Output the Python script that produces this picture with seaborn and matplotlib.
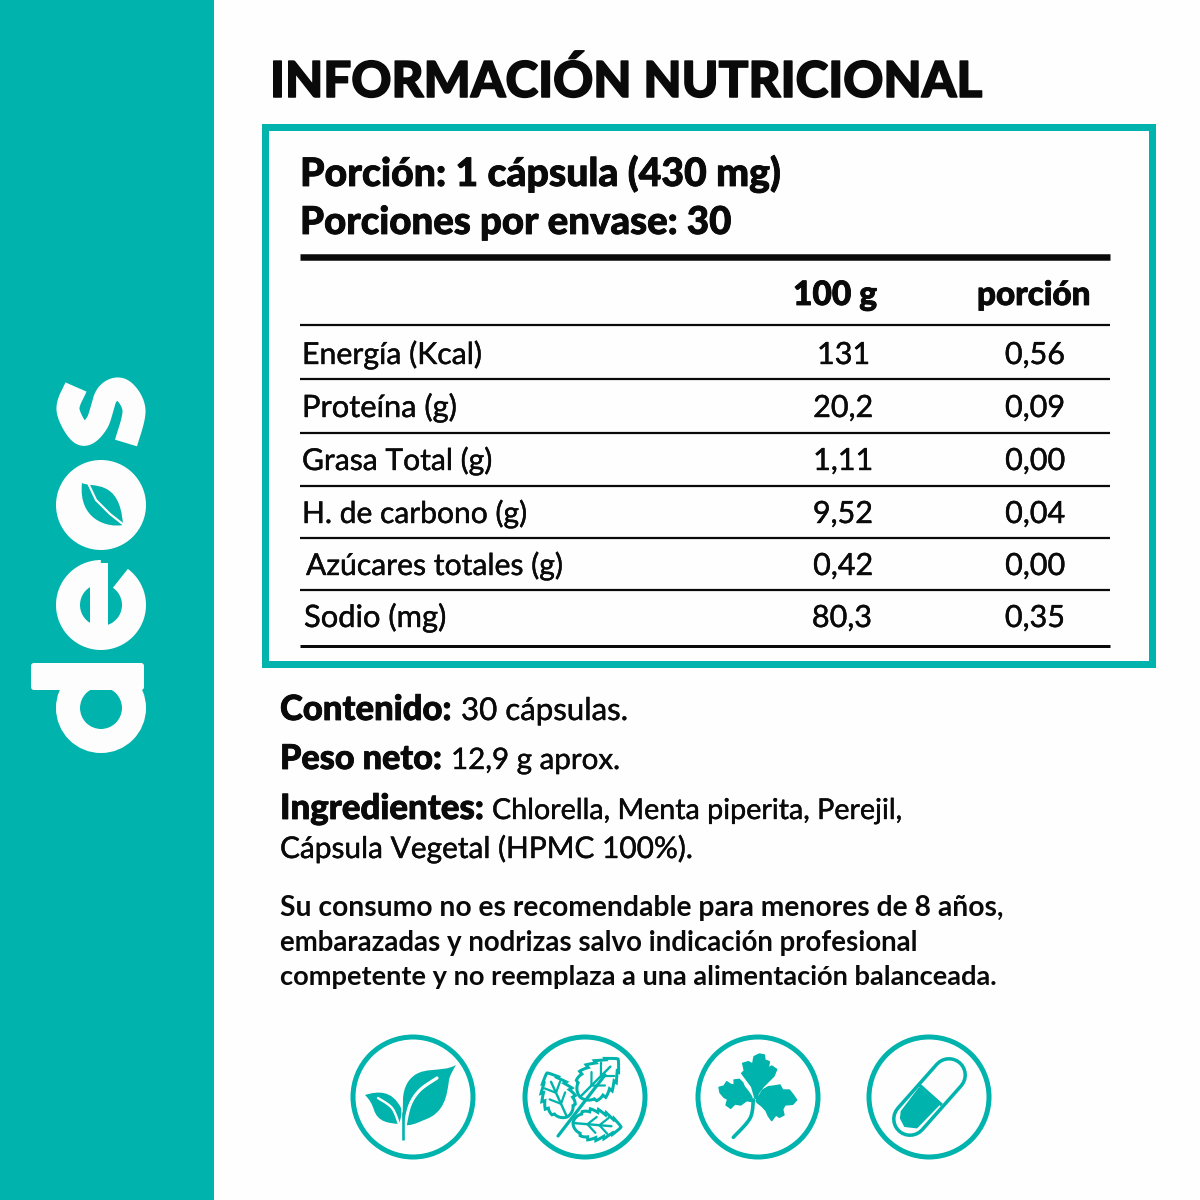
import numpy as np
import pandas as pd
import matplotlib
matplotlib.use("Agg")
import matplotlib.pyplot as plt
import matplotlib.patheffects as pe
from matplotlib.path import Path
from matplotlib.patches import PathPatch, Circle, Rectangle, FancyBboxPatch, Polygon
import seaborn as sns

TEAL = "#00B3AC"
INK = "#0A0A0A"

title = "INFORMACIÓN NUTRICIONAL"
serving = ["Porción: 1 cápsula (430 mg)", "Porciones por envase: 30"]
col_heads = ["100 g", "porción"]
nutrients = ["Energía (Kcal)", "Proteína (g)", "Grasa Total (g)", "H. de carbono (g)",
             "Azúcares totales (g)", "Sodio (mg)"]
per_100g = ["131", "20,2", "1,11", "9,52", "0,42", "80,3"]
per_portion = ["0,56", "0,09", "0,00", "0,04", "0,00", "0,35"]
info_bold = ["Contenido:", "Peso neto:", "Ingredientes:"]
info_plain = ["30 cápsulas.", "12,9 g aprox.", "Chlorella, Menta piperita, Perejil,"]
info_extra = "Cápsula Vegetal (HPMC 100%)."
warning = ["Su consumo no es recomendable para menores de 8 años,",
           "embarazadas y nodrizas salvo indicación profesional",
           "competente y no reemplaza a una alimentación balanceada."]

sns.set_theme(style="white")
plt.rcParams["font.family"] = ["Lato", "DejaVu Sans"]

fig = plt.figure(figsize=(12, 12), dpi=100, facecolor="#FEFEFE")
ax = fig.add_axes([0, 0, 1, 1])
ax.set_facecolor("#FEFEFE")
renderer = fig.canvas.get_renderer()
PT = 0.72


def fit(s, x0, x1, base, weight="normal", grow=0.0, color=INK):
    t = ax.text(x0, base, s, fontsize=20, fontweight=weight, color=color,
                ha="left", va="baseline", zorder=5)
    w = t.get_window_extent(renderer).width
    t.set_fontsize(20 * (x1 - x0) / w)
    if grow:
        t.set_path_effects([pe.withStroke(linewidth=grow, foreground=color)])
    return t


def right(s, x1, base, size, grow=0.0, color=INK):
    t = ax.text(x1, base, s, fontsize=size, color=color, ha="right", va="baseline", zorder=5)
    if grow:
        t.set_path_effects([pe.withStroke(linewidth=grow, foreground=color)])
    return t


def bez(start, *segs, **kw):
    verts = [start]
    codes = [Path.MOVETO]
    for s in segs:
        verts += list(s)
        codes += [Path.CURVE4] * 3
    verts.append(start)
    codes.append(Path.CLOSEPOLY)
    kw.setdefault("fc", TEAL)
    kw.setdefault("ec", "none")
    ax.add_patch(PathPatch(Path(verts, codes), **kw))


def stroke(xs, ys, w, color=TEAL, cap="round", z=3):
    ax.plot(xs, ys, color=color, lw=w * PT, solid_capstyle=cap, solid_joinstyle="round", zorder=z)


def spline(pts, n=24):
    p = np.array([pts[0]] + list(pts) + [pts[-1]], float)
    out = []
    for i in range(1, len(p) - 2):
        for t in np.linspace(0, 1, n):
            out.append(0.5 * (2 * p[i] + (p[i + 1] - p[i - 1]) * t
                              + (2 * p[i - 1] - 5 * p[i] + 4 * p[i + 1] - p[i + 2]) * t ** 2
                              + (3 * p[i] - p[i - 1] - 3 * p[i + 1] + p[i + 2]) * t ** 3))
    return np.array(out)


def toothed(base, tip, half, teeth, depth, power=0.7):
    b, e = np.array(base, float), np.array(tip, float)
    d = e - b
    nrm = np.array([-d[1], d[0]]) / np.hypot(*d)
    t = np.linspace(0, 1, 160)
    saw = 1 - depth * ((t * teeth) % 1)
    w = half * (np.sin(np.pi * t ** 0.8) ** power) * saw
    a = b + np.outer(t, d) + np.outer(w, nrm)
    c = b + np.outer(t, d) - np.outer(w, nrm)
    return np.vstack([a, c[::-1]])


def crop(origin, pts):
    return np.array(origin, float) + np.array(pts, float) / 3


# panels
ax.add_patch(Rectangle((0, 0), 214, 1200, fc=TEAL, ec="none", zorder=1))
ax.add_patch(Rectangle((265, 127), 886.5, 536.5, fc="none", ec=TEAL, lw=7 * PT, zorder=2))

# logo
W = "#FDFDFD"
ax.add_patch(Circle((101, 708), 33, fc="none", ec=W, lw=24 * PT, zorder=3))
ax.add_patch(Circle((101, 505), 45, fc=W, ec="none", zorder=3))
ax.add_patch(FancyBboxPatch((34, 666), 107, 21, boxstyle="round,pad=3", fc=W, ec="none", zorder=3))
ang = np.radians(np.linspace(-54, 270, 200))
stroke(101 + 33 * np.cos(ang), 605 + 33 * np.sin(ang), 24, W, "butt")
ax.add_patch(Rectangle((90, 563), 18, 84, fc=W, ec="none", zorder=3))
sp = spline([(76, 387), (68, 410), (82, 434), (97, 423), (107, 395), (122, 390), (134, 410), (126, 443)])
stroke(sp[:, 0], sp[:, 1], 23, W, "butt")
bez((82, 483), [(92, 488), (120, 478), (123, 525)], [(108, 528), (78, 520), (82, 483)], zorder=4)
stroke([88, 96, 110, 124], [483, 500, 514, 525], 2.2, W, "butt", z=5)

# rules of the table
rule_y = [325, 379, 433, 486, 538, 590]
rules = pd.DataFrame({"x": [300, 1110] * len(rule_y), "y": np.repeat(rule_y, 2),
                      "rule": np.repeat(range(len(rule_y)), 2)})
sns.lineplot(data=rules, x="x", y="y", units="rule", estimator=None, color=INK, lw=1.6,
             legend=False, ax=ax, solid_capstyle="butt", zorder=4)
heavy = pd.DataFrame({"x": [300, 1110, 300, 1110], "y": [256.5, 256.5, 646, 646], "rule": [0, 0, 1, 1]})
for r, lw in ((0, 6.5), (1, 3)):
    sns.lineplot(data=heavy[heavy.rule == r], x="x", y="y", estimator=None, color=INK, lw=lw * PT,
                 legend=False, ax=ax, solid_capstyle="butt", zorder=4)

# text
fit(title, 270, 983, 97, "black", 1.1)
serving_x1 = [782, 732]
for s, x1, b in zip(serving, serving_x1, [186, 234]):
    fit(s, 300, x1, b, "black", 0.6)
fit(col_heads[0], 793, 877, 305, "black", 0.6)
fit(col_heads[1], 977, 1091, 305, "black", 0.6)

row_base = [364, 417, 470, 523, 575, 627]
lab_x0 = [302, 302, 302, 302, 306, 304]
lab_x1 = [482, 457, 492, 527, 563, 446]
v_x1 = [870, 873, 873, 873, 873, 872]
p_x1 = [1065, 1065, 1065, 1065, 1065, 1065]
VALUE_SIZE = 22
for i, n in enumerate(nutrients):
    fit(n, lab_x0[i], lab_x1[i], row_base[i], grow=0.3)
    right(per_100g[i], v_x1[i], row_base[i], VALUE_SIZE, 0.3)
    right(per_portion[i], p_x1[i], row_base[i], VALUE_SIZE, 0.3)

info_base = [720, 769, 819]
b_x1 = [452, 442, 484]
n_x0 = [461, 451, 492]
n_x1 = [628, 620, 904]
for i in range(3):
    fit(info_bold[i], 280, b_x1[i], info_base[i], "black", 0.6)
    fit(info_plain[i], n_x0[i], n_x1[i], info_base[i], grow=0.3)
fit(info_extra, 280, 693, 858, grow=0.3)
for s, x1, b in zip(warning, [1003, 917, 997], [916, 951, 985]):
    fit(s, 280, x1, b, "bold")

# icons
for cx in (413, 585, 758, 929):
    ax.add_patch(Circle((cx, 1097), 60, fc="none", ec=TEAL, lw=5 * PT, zorder=3))

# sprout
bez((456, 1065), [(440, 1074), (420, 1064), (408, 1082)], [(401, 1093), (403, 1105), (403, 1125)],
    [(410, 1126), (415, 1124), (424, 1120)], [(445, 1113), (447, 1095), (449, 1080)],
    [(450, 1075), (453, 1070), (456, 1065)], zorder=3)
stroke(*spline([(437, 1078), (420, 1090), (410, 1105), (405, 1126)]).T, 3.2, W, "round", z=4)
bez((365, 1095), [(378, 1091), (392, 1090), (401, 1108)], [(402, 1113), (401, 1118), (399, 1124)],
    [(388, 1123), (378, 1122), (374, 1110)], [(372, 1104), (370, 1100), (365, 1095)], zorder=3)
stroke(*spline([(378, 1098), (392, 1108), (399, 1124)]).T, 2.4, W, "round", z=4)
stroke([402.5, 402.5], [1112, 1140], 2.6, TEAL, "butt", z=5)

# mint
mint = [((567, 1117), (547, 1073), 17), ((580, 1097), (618, 1059), 19), ((573, 1123), (621, 1127), 16)]
for base, tip, half in mint:
    ax.add_patch(Polygon(toothed(base, tip, half, 6, 0.2, 0.75), closed=True, fc=W, ec=TEAL,
                         lw=3 * PT, joinstyle="miter", zorder=3))
    b, e = np.array(base, float), np.array(tip, float)
    d = e - b
    nrm = np.array([-d[1], d[0]]) / np.hypot(*d)
    for t in (0.3, 0.55):
        for sg in (-1, 1):
            p0 = b + t * d
            p1 = p0 + 0.18 * d + sg * half * 0.5 * nrm
            stroke([p0[0], p1[0]], [p0[1], p1[1]], 2.2, TEAL, z=4)
    p2 = b + 0.8 * d
    stroke([b[0], p2[0]], [b[1], p2[1]], 2.4, TEAL, z=4)
stroke([558, 605], [1136, 1075], 3.2, TEAL, z=4)

# parsley
P0 = (700, 1040)
parsley_top = [(165, 175), (155, 140), (125, 100), (133, 92), (128, 70), (145, 65), (158, 72), (162, 50), (178, 42),
               (193, 45), (195, 60), (208, 65), (205, 85), (215, 78), (230, 88), (222, 108), (205, 125), (190, 140),
               (175, 160), (170, 175)]
parsley_left = [(158, 185), (140, 182), (122, 195), (105, 192), (92, 205), (78, 195), (83, 178), (72, 172), (60, 158),
                (57, 142), (72, 138), (80, 125), (92, 133), (103, 135), (102, 120), (118, 118), (128, 128), (133, 140),
                (145, 155), (155, 170)]
parsley_right = [(168, 182), (188, 150), (205, 140), (222, 138), (240, 135), (248, 150), (268, 150), (280, 165),
                 (290, 180), (278, 193), (255, 195), (248, 208), (252, 225), (238, 232), (228, 225), (215, 242),
                 (205, 228), (198, 212), (185, 198), (172, 188)]
for leaf in (parsley_top, parsley_left, parsley_right):
    ax.add_patch(Polygon(crop(P0, leaf), closed=True, fc=TEAL, ec=TEAL, lw=1.0, joinstyle="round", zorder=3))
stroke(*crop(P0, spline([(160, 180), (150, 235), (100, 292)])).T, 3.6, TEAL)

# capsule
C0 = (875, 1040)
top, low = crop(C0, [(222, 105), (105, 237)])
stroke([top[0], low[0]], [top[1], low[1]], 36, TEAL)
stroke([top[0], low[0]], [top[1], low[1]], 29, W, z=4)
fill = [(133, 145), (190, 195), (125, 262), (90, 258), (78, 235), (80, 215)]
ax.add_patch(Polygon(crop(C0, fill), closed=True, fc=TEAL, ec=TEAL, lw=1.5, joinstyle="round", zorder=5))
stroke(*crop(C0, [(133, 135), (200, 195)]).T, 3.4, TEAL, "butt", z=6)

ax.set_xlim(0, 1200)
ax.set_ylim(1200, 0)
ax.set_xlabel("")
ax.set_ylabel("")
ax.axis("off")
fig.savefig("out.png", dpi=100, facecolor=fig.get_facecolor())
